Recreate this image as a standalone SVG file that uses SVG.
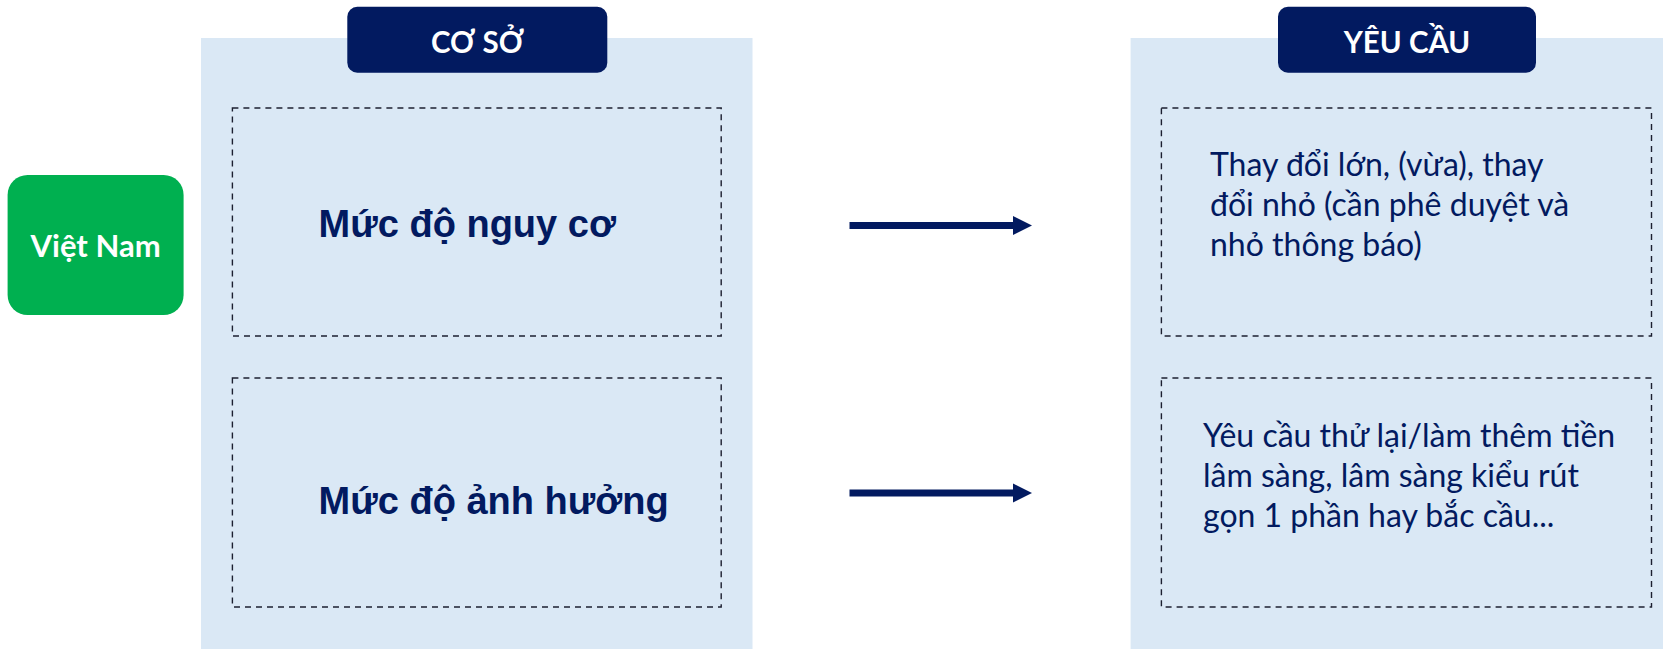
<svg xmlns="http://www.w3.org/2000/svg" width="1663" height="649" viewBox="0 0 1663 649">
  <style>
    .panel { fill: #DAE8F5; }
    .header { fill: #021A60; }
    .header-text { font-family: "Lato", "Liberation Sans", sans-serif; font-weight: bold; font-size: 29.5px; fill: #FFFFFF; text-anchor: middle; }
    .dash { fill: none; stroke: #1C1F30; stroke-width: 1.4; stroke-dasharray: 6 5; }
    .label-bold { font-family: "Liberation Sans", Arial, sans-serif; font-weight: bold; font-size: 38px; fill: #021A60; }
    .body-text { font-family: "Lato", "Liberation Sans", sans-serif; font-size: 32px; fill: #021A60; }
    .connector { stroke: #021A60; stroke-width: 7; fill: none; }
  </style>
  <defs>
    <marker id="arrowhead" markerUnits="userSpaceOnUse" markerWidth="20" markerHeight="20" refX="0" refY="10" orient="auto">
      <path d="M0,0.5 L19,10 L0,19.5 Z" fill="#021A60"/>
    </marker>
  </defs>

  <rect width="1663" height="649" fill="#FFFFFF"/>

  <!-- Country label -->
  <g id="node-vietnam">
    <rect x="7.6" y="175" width="176" height="140" rx="20" ry="20" fill="#00B050"/>
    <text x="95.6" y="257" class="header-text" style="font-size:31px">Việt Nam</text>
  </g>

  <!-- Left column: basis -->
  <g id="node-coso">
    <rect x="201" y="38" width="551.5" height="611" class="panel"/>
    <rect x="347.3" y="6.7" width="260" height="66" rx="10" ry="10" class="header"/>
    <text x="477.5" y="52.7" class="header-text">CƠ SỞ</text>
  </g>
  <g id="node-risk">
    <rect x="232.4" y="108" width="488.8" height="228" class="dash"/>
    <text x="318.6" y="236.7" class="label-bold">Mức độ nguy cơ</text>
  </g>
  <g id="node-impact">
    <rect x="232.4" y="378" width="488.8" height="229" class="dash"/>
    <text x="318.6" y="514" class="label-bold">Mức độ ảnh hưởng</text>
  </g>

  <!-- Right column: requirements -->
  <g id="node-yeucau">
    <rect x="1130.6" y="38" width="532.4" height="611" class="panel"/>
    <rect x="1278" y="6.7" width="258" height="66" rx="10" ry="10" class="header"/>
    <text x="1407" y="52.7" class="header-text">YÊU CẦU</text>
  </g>
  <g id="node-changes">
    <rect x="1161.4" y="108" width="490.1" height="228" class="dash"/>
    <text class="body-text">
      <tspan x="1210" y="176">Thay đổi lớn, (vừa), thay</tspan>
      <tspan x="1210" y="216">đổi nhỏ (cần phê duyệt và</tspan>
      <tspan x="1210" y="255.5">nhỏ thông báo)</tspan>
    </text>
  </g>
  <g id="node-studies">
    <rect x="1161.4" y="378" width="490.1" height="229" class="dash"/>
    <text class="body-text">
      <tspan x="1203" y="446.7">Yêu cầu thử lại/làm thêm tiền</tspan>
      <tspan x="1203" y="486.5">lâm sàng, lâm sàng kiểu rút</tspan>
      <tspan x="1203" y="526.5">gọn 1 phần hay bắc cầu...</tspan>
    </text>
  </g>

  <!-- Connectors -->
  <g id="connectors">
    <line x1="849.5" y1="225.5" x2="1013" y2="225.5" class="connector" marker-end="url(#arrowhead)"/>
    <line x1="849.5" y1="493" x2="1013" y2="493" class="connector" marker-end="url(#arrowhead)"/>
  </g>
</svg>
